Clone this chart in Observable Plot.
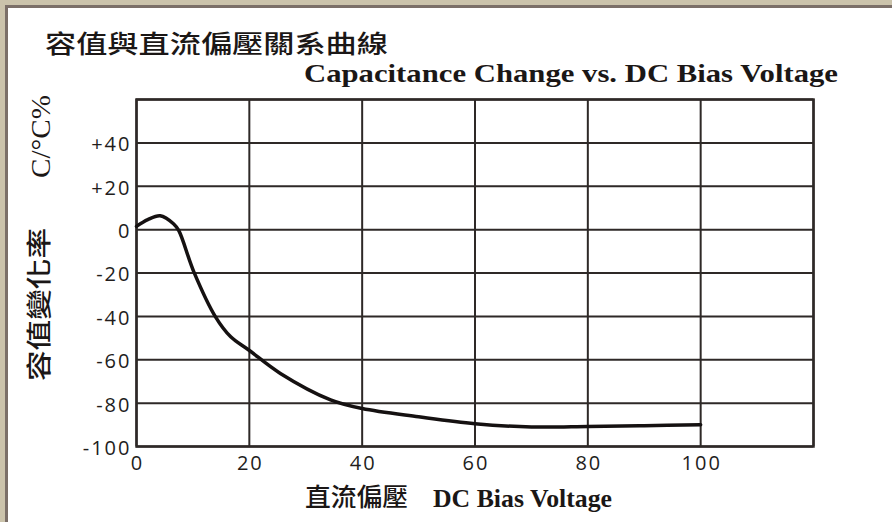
<!DOCTYPE html>
<html>
<head>
<meta charset="utf-8">
<script src="https://cdn.jsdelivr.net/npm/d3@7"></script>
<script src="https://cdn.jsdelivr.net/npm/@observablehq/plot@0.6"></script>
<style>
  html, body { margin: 0; padding: 0; background: #fff; }
  #wrap { position: relative; width: 892px; height: 522px; background: #fff; overflow: hidden; }
  #plot, #overlay { position: absolute; left: 0; top: 0; }
  .bd { position: absolute; }
</style>
</head>
<body>
<div id="wrap">
  <div id="plot"></div>
  <svg id="overlay" width="892" height="522"></svg>
  <div class="bd" style="left:0;top:0;width:892px;height:5px;background:#cbc3ab"></div>
  <div class="bd" style="left:0;top:0;width:5px;height:522px;background:#cbc3ab"></div>
  <div class="bd" style="left:5px;top:5px;width:887px;height:3px;background:#7b6f68"></div>
  <div class="bd" style="left:5px;top:5px;width:3px;height:517px;background:#7b6f68"></div>
</div>
<script>
// ---- data ----
const voltage = [0, 2, 4.2, 6.6, 7.5, 10.2, 14, 16.7, 19.9, 25.5, 34.4, 40, 50, 60, 70, 80, 90, 100];
const change  = [1.5, 4.6, 6.4, 2.6, -0.5, -19.7, -40.2, -49.4, -55.5, -66.3, -78.5, -82.5, -86.3, -89.5, -91, -90.8, -90.4, -90];
const xGrid = [0, 20, 40, 60, 80, 100, 120];
const yGrid = [-100, -80, -60, -40, -20, 0, 20, 40, 60];
const xTickLabels = [0, 20, 40, 60, 80, 100];
const yTickLabels = [-100, -80, -60, -40, -20, 0, 20, 40];
const titleZh = "容值與直流偏壓關系曲線";
const titleEn = "Capacitance Change vs. DC Bias Voltage";
const xLabelZh = "直流偏壓";
const xLabelEn = "DC Bias Voltage";
const yLabelZh = "容值變化率";
const yLabelEn = "C/°C%";

const data = voltage.map((v, i) => ({v, c: change[i]}));
const ink = "#2e2927";
const tickFont = "'Open Sans', 'DejaVu Sans', sans-serif";
const fmtY = d => d > 0 ? "+" + d : String(d);

const chart = Plot.plot({
  width: 892,
  height: 522,
  marginLeft: 136,
  marginRight: 79,
  marginTop: 99,
  marginBottom: 76,
  style: {fontFamily: tickFont, fontSize: "20px", color: "#221d1c", background: "transparent", overflow: "visible"},
  x: {domain: [0, 120], axis: null},
  y: {domain: [-100, 60], axis: null},
  marks: [
    Plot.gridX(xGrid, {stroke: ink, strokeOpacity: 1, strokeWidth: 2}),
    Plot.gridY(yGrid, {stroke: ink, strokeOpacity: 1, strokeWidth: 2}),
    Plot.frame({stroke: ink, strokeWidth: 2.5}),
    Plot.text(yTickLabels, {x: 0, y: d => d, text: fmtY, textAnchor: "end", dx: -5, dy: 2,
      fontSize: 20, fill: "#221d1c", fontFamily: tickFont}),
    Plot.text(xTickLabels, {x: d => d, y: -100, text: d => String(d), dy: 17, dx: 1,
      fontSize: 20, fill: "#221d1c", fontFamily: tickFont}),
    Plot.line(data, {x: "v", y: "c", curve: "catmull-rom", stroke: "#151111", strokeWidth: 3.5})
  ]
});
d3.select(chart).selectAll("text").style("letter-spacing", "2px").style("font-size", "20px");
document.getElementById("plot").appendChild(chart);

// ---- titles / axis labels ----
const ov = d3.select("#overlay");
const cjk = "'Noto Sans CJK TC', 'Noto Sans CJK SC', sans-serif";
const serif = "'Liberation Serif', 'DejaVu Serif', serif";
function txt(g, s, x, y, size, family, weight, len) {
  return g.append("text").attr("x", x).attr("y", y)
    .attr("font-size", size).attr("font-family", family).attr("font-weight", weight)
    .attr("fill", "#1b1716")
    .attr("textLength", len).attr("lengthAdjust", "spacingAndGlyphs")
    .text(s);
}
txt(ov, titleZh, 45, 53, 25, cjk, 500, 343);
txt(ov, titleEn, 304, 82, 26, serif, 700, 534);
txt(ov, xLabelZh, 305, 506, 25, cjk, 500, 103);
txt(ov, xLabelEn, 433, 507, 25, serif, 700, 179);
const gz = ov.append("g").attr("transform", "translate(48,381) rotate(-90)");
txt(gz, yLabelZh, 0, 0, 25, cjk, 500, 153);
const ge = ov.append("g").attr("transform", "translate(50,178) rotate(-90)");
txt(ge, yLabelEn, 0, 0, 27, serif, 400, 83);
</script>
</body>
</html>
